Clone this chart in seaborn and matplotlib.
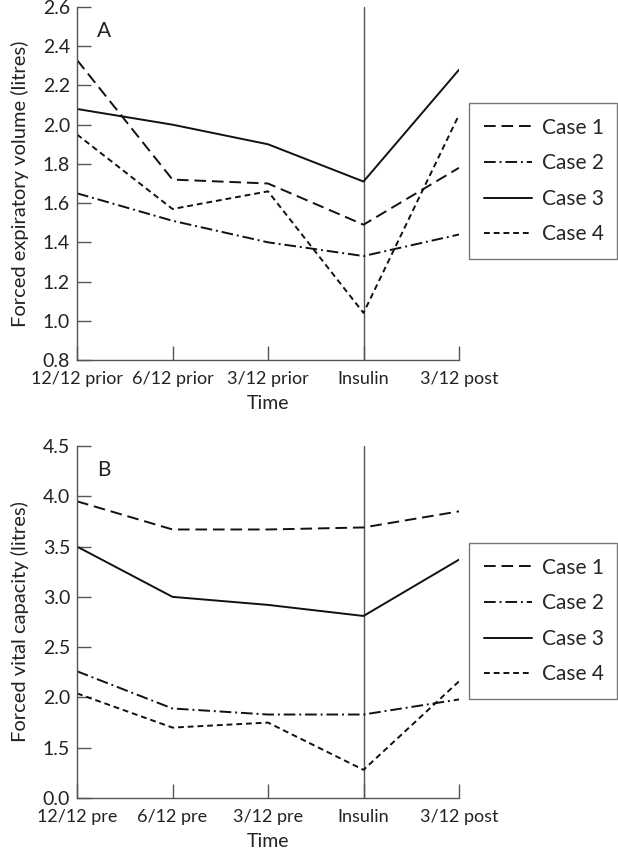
import matplotlib
matplotlib.use("Agg")
import matplotlib.pyplot as plt
import seaborn as sns
import numpy as np
import pandas as pd

# Time points for each panel
times_a = ["12/12 prior", "6/12 prior", "3/12 prior", "Insulin", "3/12 post"]
times_b = ["12/12 pre", "6/12 pre", "3/12 pre", "Insulin", "3/12 post"]
cases = ["Case 1", "Case 2", "Case 3", "Case 4"]

# Panel A: forced expiratory volume (litres)
fev_case1 = [2.33, 1.72, 1.70, 1.49, 1.78]
fev_case2 = [1.65, 1.51, 1.40, 1.33, 1.44]
fev_case3 = [2.08, 2.00, 1.90, 1.71, 2.28]
fev_case4 = [1.95, 1.57, 1.66, 1.04, 2.05]

# Panel B: forced vital capacity (litres)
fvc_case1 = [3.95, 3.67, 3.67, 3.69, 3.85]
fvc_case2 = [2.26, 1.89, 1.83, 1.83, 1.98]
fvc_case3 = [3.50, 3.00, 2.92, 2.81, 3.37]
fvc_case4 = [2.04, 1.70, 1.75, 1.28, 2.16]

fev_ticks = [0.8, 1.0, 1.2, 1.4, 1.6, 1.8, 2.0, 2.2, 2.4, 2.6]
fvc_ticks = [1.0, 1.5, 2.0, 2.5, 3.0, 3.5, 4.0, 4.5]
# broken axis: the bottom tick is labelled 0.0
fvc_ticklabels = ["0.0", "1.5", "2.0", "2.5", "3.0", "3.5", "4.0", "4.5"]


def long_form(series):
    rows = []
    for case, vals in zip(cases, series):
        for i, v in enumerate(vals):
            rows.append({"Case": case, "t": i, "value": v})
    return pd.DataFrame(rows)


df_a = long_form([fev_case1, fev_case2, fev_case3, fev_case4])
df_b = long_form([fvc_case1, fvc_case2, fvc_case3, fvc_case4])

sns.set_theme(style="ticks")
plt.rcParams["font.family"] = ["Lato", "DejaVu Sans"]

dashes = {"Case 1": (6, 3), "Case 2": (6, 2, 1, 2), "Case 3": "", "Case 4": (3, 2)}
grey = "#555555"
ink = "#222222"

fig = plt.figure(figsize=(6.18, 8.52), dpi=100)
ax_a = fig.add_axes([77 / 618, 1 - 360 / 852, 382 / 618, 353 / 852])
ax_b = fig.add_axes([77 / 618, 1 - 798 / 852, 382 / 618, 352 / 852])

panels = [
    (ax_a, df_a, times_a, fev_ticks, None, (0.8, 2.6),
     "Forced expiratory volume (litres)", "A", (103 / 852, 264 / 852)),
    (ax_b, df_b, times_b, fvc_ticks, fvc_ticklabels, (1.0, 4.5),
     "Forced vital capacity (litres)", "B", (543 / 852, 703 / 852)),
]

for ax, df, times, yt, ytl, ylim, ylabel, letter, leg in panels:
    ax.axvline(3, color=grey, lw=1.0, zorder=0)
    sns.lineplot(data=df, x="t", y="value", style="Case", dashes=dashes,
                 color="#111111", lw=1.4, ax=ax, legend=True)
    ax.set_xlim(0, 4)
    ax.set_ylim(*ylim)
    ax.set_xticks(range(5))
    ax.set_xticklabels(times, va="baseline")
    ax.set_yticks(yt)
    if ytl is not None:
        ax.set_yticklabels(ytl)
    else:
        ax.set_yticklabels([f"{v:.1f}" for v in yt])
    ax.tick_params(direction="in", length=10, width=1.0, color=grey,
                   colors=ink)
    ax.tick_params(axis="x", labelsize=13, pad=17)
    ax.tick_params(axis="y", labelsize=14, pad=5)
    ax.set_xlabel("Time", fontsize=14, color=ink, labelpad=6)
    ax.set_ylabel(ylabel, fontsize=14.5, color=ink, labelpad=10)
    for s in ["top", "right"]:
        ax.spines[s].set_visible(False)
    for s in ["left", "bottom"]:
        ax.spines[s].set_color(grey)
        ax.spines[s].set_linewidth(1.0)
    ax.text(0.052, 0.932, letter, transform=ax.transAxes, fontsize=15,
            color=ink, va="center", ha="left")
    handles, labels = ax.get_legend_handles_labels()
    top, bottom = leg
    ax.legend(handles, labels, loc="upper left",
              bbox_to_anchor=(469 / 618, 1 - bottom, 148 / 618, bottom - top),
              bbox_transform=fig.transFigure, mode="expand",
              fontsize=15, frameon=True, fancybox=False, edgecolor=grey,
              handlelength=2.3, borderpad=0.7, labelspacing=0.75,
              handletextpad=0.5, borderaxespad=0)
    ax.get_legend().get_frame().set_linewidth(1.0)

fig.savefig("out.png", dpi=100)
